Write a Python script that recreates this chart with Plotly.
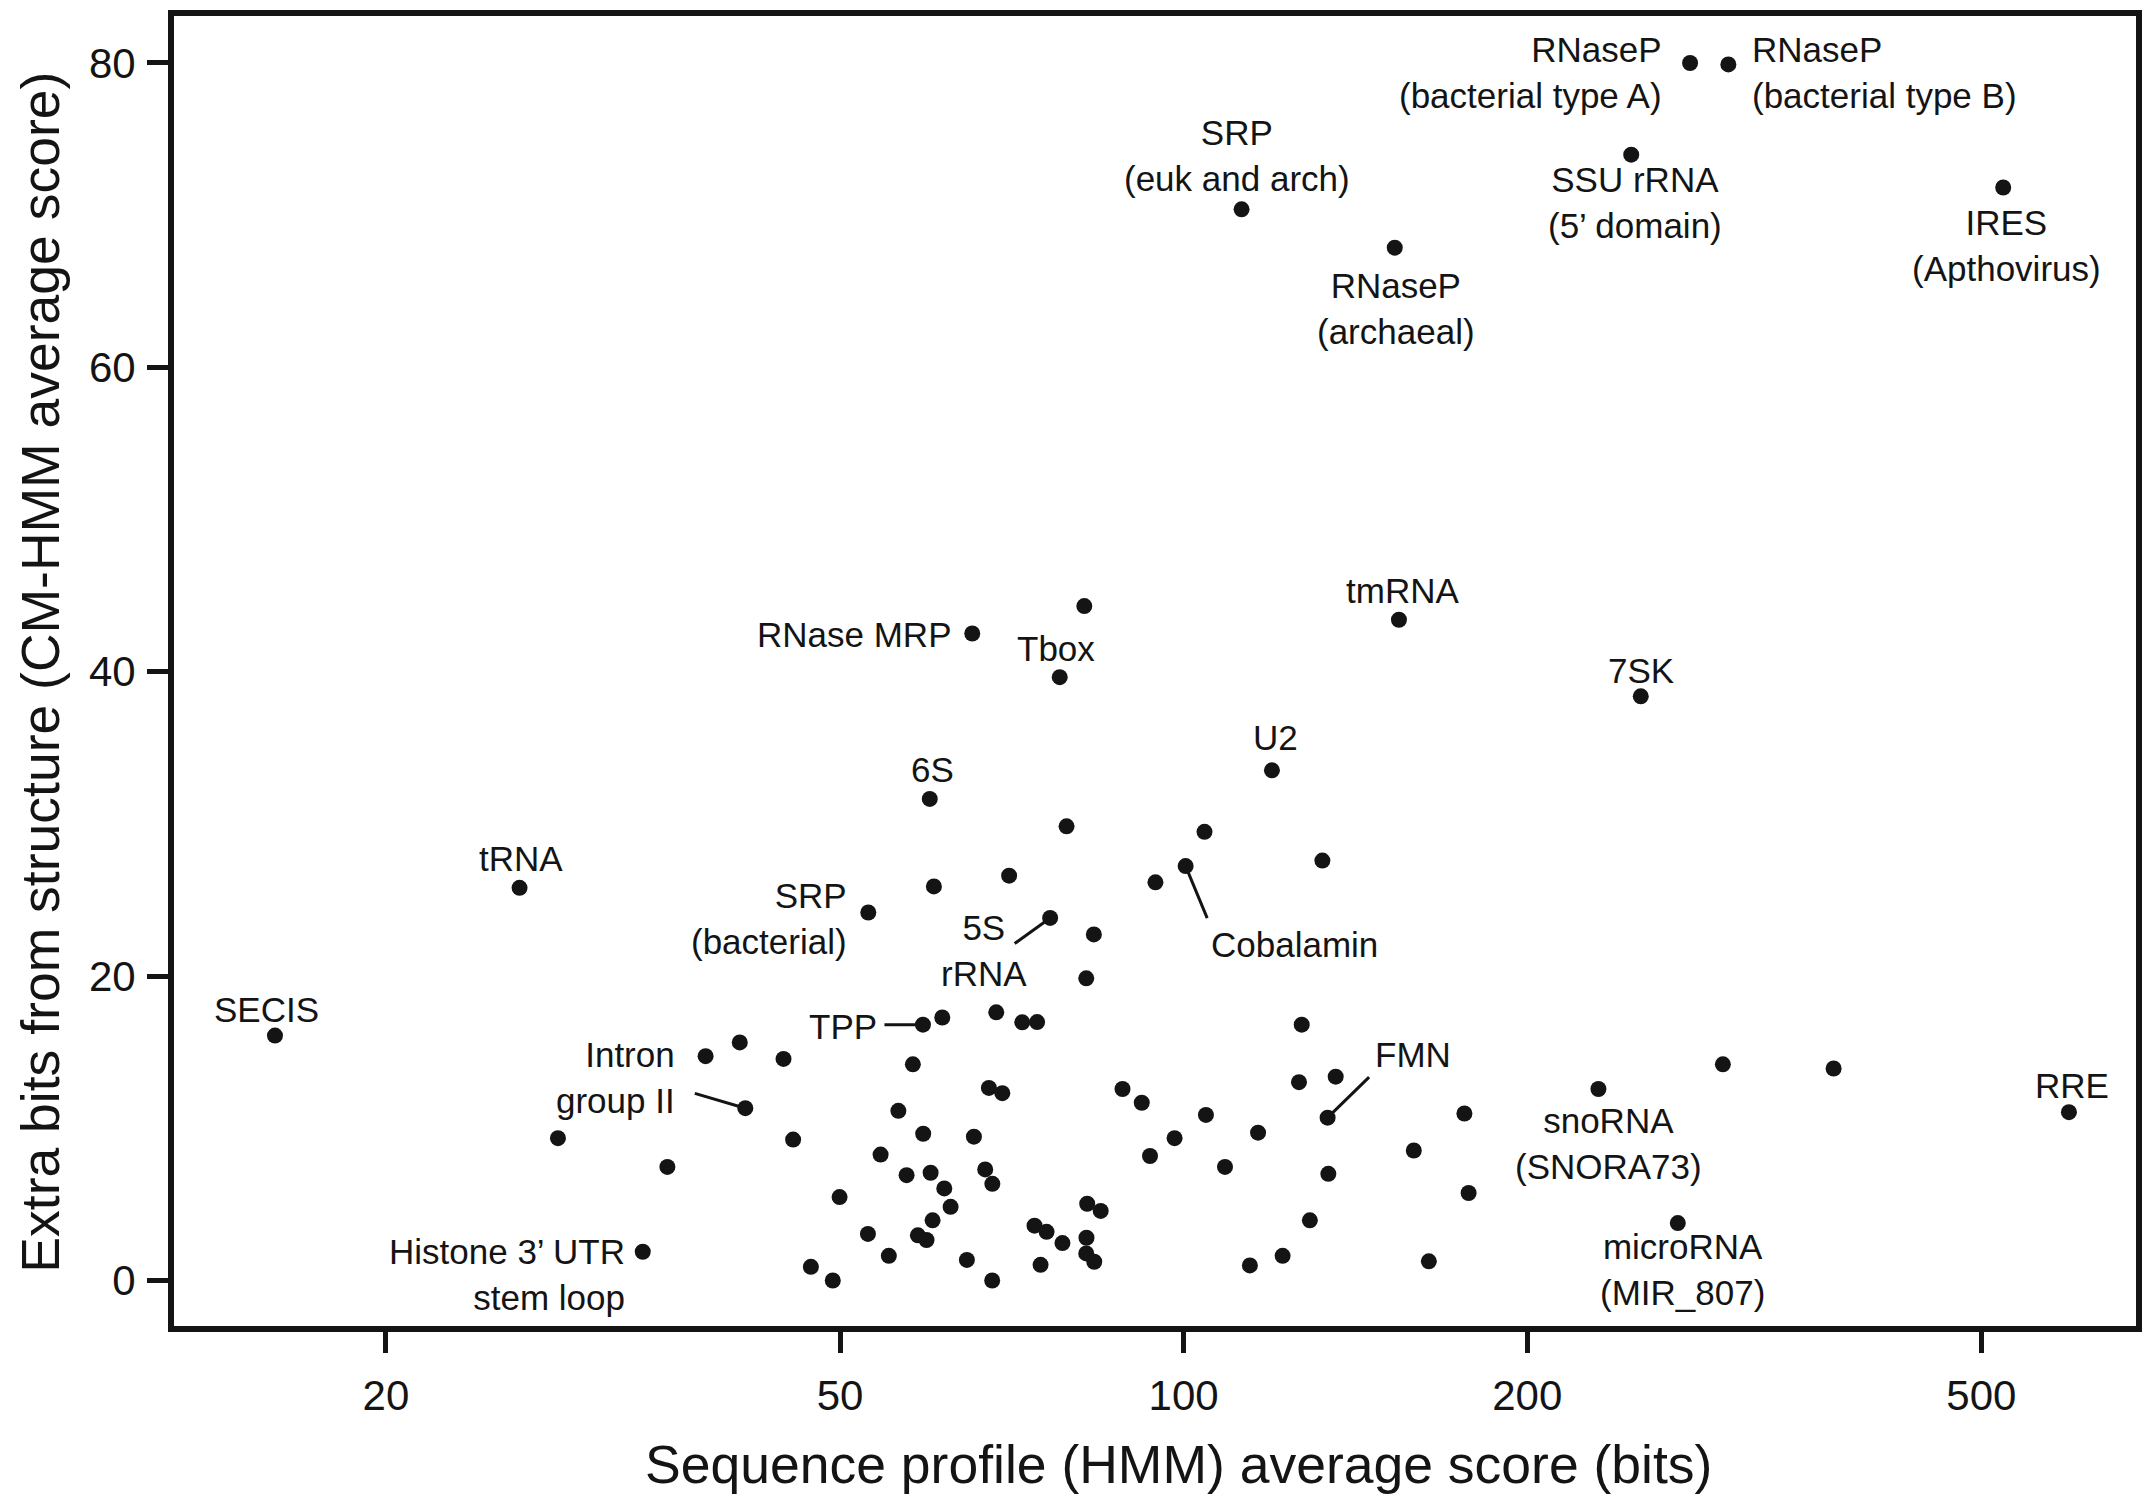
import math
import plotly.graph_objects as go

# ---- data ----
names = [
    "SECIS", "tRNA", "", "", "Histone", "", "", "Intron", "", "", "", "", "",
    "SRPb", "", "", "", "", "", "", "", "TPP", "", "", "", "6S", "", "",
    "", "", "", "", "RNaseMRP", "", "", "", "", "", "", "", "", "", "",
    "", "", "", "5S", "Tbox", "", "", "", "", "", "", "", "", "", "", "",
    "", "", "", "", "Cobalamin", "", "", "", "SRPe", "", "", "U2", "",
    "", "", "", "", "FMN", "", "", "RNasePar", "tmRNA", "", "", "", "",
    "snoRNA", "SSU", "7SK", "microRNA", "RNasePA", "", "RNasePB", "", "IRES", "RRE",
]
hmm_score = [
    15.99, 26.19, 28.30, 35.29, 33.58, 38.12, 40.84, 41.30, 44.61, 45.48, 47.14, 49.27, 49.95,
    52.93, 52.89, 54.26, 55.17, 56.24, 57.18, 57.91, 58.50, 59.10, 59.13, 59.53, 60.02, 59.92, 60.26, 60.42,
    61.45, 61.70, 62.49, 64.58, 65.28, 65.50, 67.01, 67.51, 67.98, 67.96, 68.52, 69.36, 70.32, 72.21, 74.02,
    74.41, 74.93, 75.84, 76.39, 77.88, 78.31, 78.96, 81.84, 82.16, 82.32, 82.20, 82.16, 83.43, 83.50, 84.59, 88.40,
    91.90, 93.44, 94.47, 98.19, 100.4, 104.3, 104.6, 108.7, 112.4, 114.3, 116.2, 119.5, 122.1,
    126.2, 126.9, 129.0, 132.3, 133.7, 133.9, 135.9, 153.1, 154.4, 159.1, 164.0, 176.2, 177.7,
    230.9, 246.7, 251.5, 271.0, 277.8, 296.8, 300.1, 371.1, 522.5, 596.6,
]
extra_bits = [
    16.09, 25.80, 9.35, 7.46, 1.89, 14.74, 15.64, 11.32, 14.56, 9.26, 0.90, 0.00, 5.48,
    24.18, 3.06, 8.27, 1.62, 11.15, 6.92, 14.20, 2.97, 16.81, 9.64, 2.66, 7.08, 31.64, 3.95, 25.89,
    17.28, 6.05, 4.84, 1.35, 42.51, 9.45, 7.30, 12.65, 6.35, 0.00, 17.62, 12.31, 26.60, 16.96, 3.60,
    16.98, 1.03, 3.20, 23.82, 39.64, 2.46, 29.84, 44.31, 19.85, 5.04, 2.81, 1.78, 22.74, 1.23, 4.57, 12.58,
    11.68, 8.18, 26.16, 9.35, 27.23, 29.48, 10.88, 7.46, 70.38, 0.99, 9.71, 33.52, 1.62,
    13.03, 16.81, 3.95, 27.59, 10.70, 7.01, 13.39, 67.86, 43.41, 8.54, 1.26, 10.97, 5.75,
    12.58, 73.97, 38.38, 3.77, 79.99, 14.20, 79.90, 13.93, 71.81, 11.06,
]
label_text = {
    "SECIS": "SECIS", "tRNA": "tRNA", "Histone": "Histone 3’ UTR<br>stem loop",
    "Intron": "Intron<br>group II", "SRPb": "SRP<br>(bacterial)", "TPP": "TPP",
    "6S": "6S", "RNaseMRP": "RNase MRP", "5S": "5S<br>rRNA", "Tbox": "Tbox",
    "Cobalamin": "Cobalamin", "SRPe": "SRP<br>(euk and arch)", "U2": "U2",
    "FMN": "FMN", "RNasePar": "RNaseP<br>(archaeal)", "tmRNA": "tmRNA",
    "snoRNA": "snoRNA<br>(SNORA73)", "SSU": "SSU rRNA<br>(5’ domain)", "7SK": "7SK",
    "microRNA": "microRNA<br>(MIR_807)", "RNasePA": "RNaseP<br>(bacterial type A)",
    "RNasePB": "RNaseP<br>(bacterial type B)", "IRES": "IRES<br>(Apthovirus)", "RRE": "RRE",
}
x_ticks = [20, 50, 100, 200, 500]
y_ticks = [0, 20, 40, 60, 80]

# ---- label placement (pixel offsets from the point: dx right, dy down) ----
label_place = {
    "SECIS": ("center", -8, -26), "tRNA": ("center", 1, -29),
    "Histone": ("right", -16, 23), "6S": ("center", 3, -29),
    "SRPb": ("right", -19, 6), "RNaseMRP": ("right", -19, 1),
    "Tbox": ("center", -4, -29), "SRPe": ("center", -5, -54),
    "U2": ("center", 4, -33), "RNasePar": ("center", 1, 61),
    "tmRNA": ("center", 4, -29), "SSU": ("center", 4, 48),
    "RNasePA": ("right", -26, 9), "RNasePB": ("left", 22, 8),
    "IRES": ("center", 3, 58), "7SK": ("center", 0, -26),
    "snoRNA": ("center", 10, 54), "microRNA": ("center", 5, 46),
    "RRE": ("center", 3, -27),
    "Intron": ("right", -68, -31), "TPP": ("right", -44, 2),
    "5S": ("center", -66, 33), "Cobalamin": ("center", 109, 78),
    "FMN": ("center", 85, -63),
}
# leader lines: far end of the line, offset from the point
leader_tail = {
    "Intron": (-51, -15), "TPP": (-39, 0), "5S": (-36, 26),
    "Cobalamin": (22, 53), "FMN": (42, -41),
}

INK = "#141414"
FONT = "Liberation Sans, Arial, Helvetica, sans-serif"
LABEL_SIZE = 35

fig = go.Figure()
fig.add_trace(go.Scatter(
    x=hmm_score, y=extra_bits, mode="markers",
    marker=dict(size=16, color=INK, line=dict(width=0)),
    hoverinfo="skip", showlegend=False,
))

annotations = []
for n, xv, yv in zip(names, hmm_score, extra_bits):
    if not n:
        continue
    lx = math.log10(xv)  # log axis: annotation x in log units
    anchor, dx, dy = label_place[n]
    annotations.append(dict(
        x=lx, y=yv, xref="x", yref="y", text=label_text[n], showarrow=False,
        xanchor=anchor, yanchor="middle", align=anchor,
        xshift=dx, yshift=-dy, font=dict(size=LABEL_SIZE, color=INK, family=FONT),
    ))
    if n in leader_tail:
        tx, ty = leader_tail[n]
        annotations.append(dict(
            x=lx, y=yv, xref="x", yref="y", text=" ", showarrow=True,
            ax=tx, ay=ty, arrowhead=0, arrowwidth=3, arrowcolor=INK,
            standoff=0, borderpad=0, font=dict(size=1, color=INK, family=FONT),
        ))

annotations.append(dict(
    x=0.5122, y=-0.106, xref="paper", yref="paper", showarrow=False,
    text="Sequence profile (HMM) average score (bits)",
    xanchor="center", yanchor="middle", font=dict(size=53.5, color=INK, family=FONT),
))
annotations.append(dict(
    x=-0.0678, y=0.4995, xref="paper", yref="paper", showarrow=False,
    text="Extra bits from structure (CM-HMM average score)", textangle=-90,
    xanchor="center", yanchor="middle", font=dict(size=53.5, color=INK, family=FONT),
))

axis_common = dict(
    showgrid=False, zeroline=False, showline=True, linecolor=INK, linewidth=6,
    mirror=True, ticks="outside", ticklen=21, tickwidth=5, tickcolor=INK,
    tickfont=dict(size=42, color=INK, family=FONT),
)

fig.update_layout(
    width=2145, height=1496,
    margin=dict(l=174, r=3, t=16, b=170),
    paper_bgcolor="white", plot_bgcolor="white",
    xaxis=dict(type="log", range=[1.11537, 2.83444], tickvals=x_ticks,
               ticktext=[str(v) for v in x_ticks], ticklabelstandoff=7, **axis_common),
    yaxis=dict(range=[-2.99, 83.08], tickvals=y_ticks,
               ticktext=[str(v) for v in y_ticks], ticklabelstandoff=3, **axis_common),
    annotations=annotations,
    font=dict(family=FONT, color=INK),
)

fig.write_html(
    "out.html",
    config={"displayModeBar": False},
    post_script="document.body.style.margin='0';document.body.style.overflow='hidden';",
)
